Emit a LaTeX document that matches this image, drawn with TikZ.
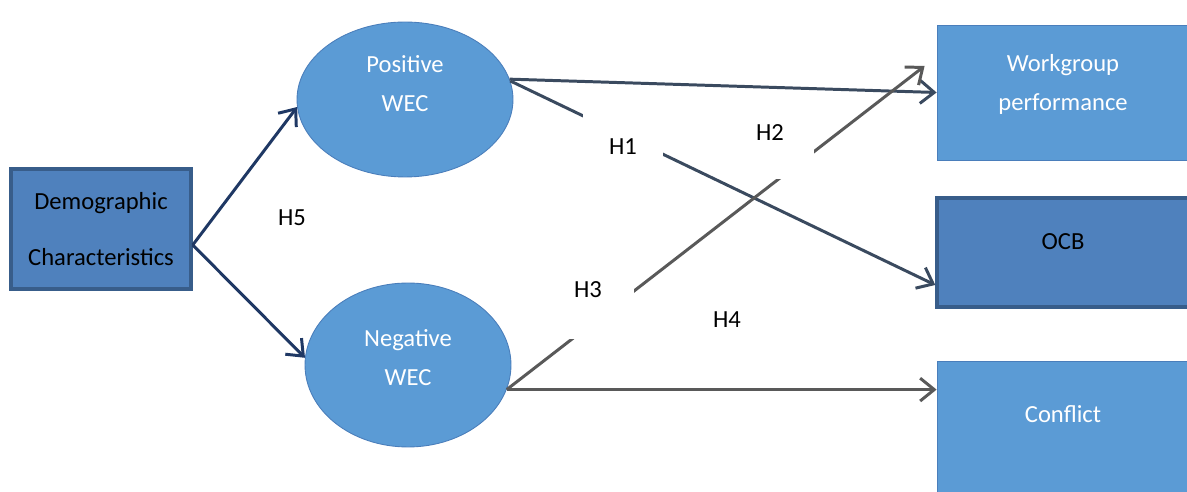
\documentclass[tikz,border=0pt]{standalone}
\usepackage{fontspec}
\setmainfont{Carlito}
\usetikzlibrary{shapes.geometric,arrows.meta,calc}

\definecolor{boxlight}{HTML}{5B9BD5}
\definecolor{boxdark}{HTML}{4F81BD}
\definecolor{rimdark}{HTML}{385D8A}
\definecolor{rimlight}{HTML}{4A7EBB}
\definecolor{navyline}{HTML}{1F3864}
\definecolor{slateline}{HTML}{3A4A5F}
\definecolor{greyline}{HTML}{595959}

\begin{document}
\begin{tikzpicture}[x=0.02cm,y=-0.02cm,
	every node/.style={font=\fontsize{14}{22}\selectfont},
	darkbox/.style={rectangle,fill=boxdark,draw=rimdark,line width=2pt,text=black},
	lightbox/.style={rectangle,fill=boxlight,draw=rimlight,line width=0.5pt,text=white,minimum width=5.04cm},
	wec/.style={ellipse,fill=boxlight,draw=rimlight,line width=0.5pt,text=white,align=center},
	hyp/.style={fill=white,inner sep=0pt,anchor=base},
	arr/.style={line width=1.7pt,-{Straight Barb[length=8pt,width=13pt]}}]
	\useasboundingbox (0,0) rectangle (1187,492);
	% factors and outcomes
	\node[darkbox,align=center,minimum width=3.6cm,minimum height=2.4cm,font=\fontsize{14}{32}\selectfont] (dc) at (101,229) {Demographic\\Characteristics};
	\node[wec,minimum width=4.32cm,minimum height=3.1cm,text depth=0.64cm] (pw) at (405,99.5) {Positive\\WEC};
	\node[wec,minimum width=4.12cm,minimum height=3.28cm,text depth=0.3cm] (nw) at (408,365) {Negative\\WEC};
	\node[lightbox,minimum height=2.7cm,align=center,text depth=0.4cm] (wp) at (1063,92.5) {Workgroup\\performance};
	\node[darkbox,minimum width=5.04cm,minimum height=2.18cm,text height=0.32cm,text depth=0.42cm] (ocb) at (1063,252.5) {OCB};
	\node[lightbox,minimum height=2.78cm,text height=0.32cm,text depth=0.62cm] (cf) at (1063,430.5) {Conflict};
	% paths
	\draw[arr,navyline] ([yshift=-0.32cm]dc.east) -- (pw.184);
	\draw[arr,navyline] ([yshift=-0.32cm]dc.east) -- (nw.176);
	\draw[arr,slateline] (pw.11) -- (wp.west);
	\draw[arr,slateline] (pw.10) -- ([yshift=-0.65cm]ocb.west);
	\draw[arr,greyline] (nw.-14) -- ([xshift=-0.24cm,yshift=0.53cm]wp.west);
	\draw[arr,greyline] (nw.-14) -- (nw.-14 -| cf.west);
	% hypotheses
	\node[hyp,text height=0.9cm,text depth=0.4cm,inner xsep=0.52cm] (h1) at (623,155) {H1};
	\node[hyp,text height=0.52cm,text depth=0.76cm,inner xsep=0.6cm] (h2) at (770,141) {H2};
	\node[hyp,text height=0.56cm,text depth=0.82cm,inner xsep=0.64cm] (h3) at (588,298) {H3};
	\node (h4) at (727,320) {H4};
	\node (h5) at (292,218) {H5};
\end{tikzpicture}
\end{document}
